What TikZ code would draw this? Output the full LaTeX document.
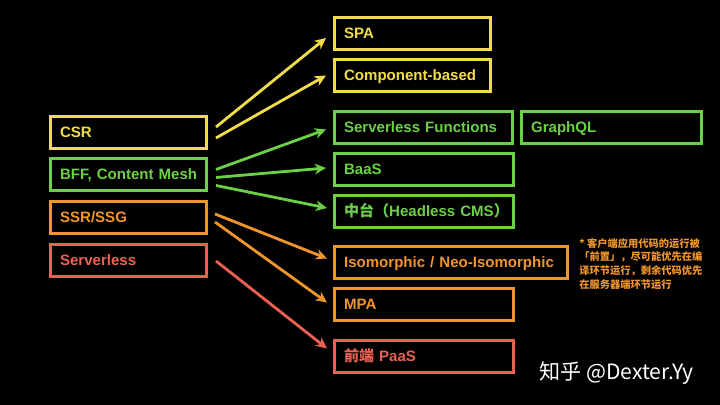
\documentclass[tikz,border=0pt]{standalone}
\usepackage{fontspec}
\setmainfont{Liberation Sans}
\newfontfamily\cjk{Noto Sans CJK SC}
\usetikzlibrary{arrows.meta,calc}
\definecolor{yel}{HTML}{F2DC4A}
\definecolor{grn}{HTML}{6CD046}
\definecolor{org}{HTML}{F0952C}
\definecolor{rd}{HTML}{EC6052}

\begin{document}
\begin{tikzpicture}[
        x=0.025cm, y=-0.025cm,
        box/.style 2 args={draw=#1, text=#1, line width=2.1pt, anchor=north west,
                minimum height=0.8cm, inner xsep=0.24cm, text width=#2, align=left,
                text height=0.72em, text depth=0pt,
                font=\fontsize{10.7}{12}\selectfont\bfseries},
        link/.style={draw=#1, line width=2pt, -{Stealth[length=8pt,width=7.5pt]}}
    ]
    \fill[black] (0,0) rectangle (720,405);

    \node[box={yel}{3.42cm}] (csr) at (49,115) {CSR};
    \node[box={grn}{3.42cm}] (bff) at (49,157) {\mbox{BFF, Content Mesh}};
    \node[box={org}{3.42cm}] (ssr) at (49,200) {SSR/SSG};
    \node[box={rd}{3.42cm}] (srv) at (49,243) {Serverless};

    \node[box={yel}{3.42cm}] (spa) at (333,16) {SPA};
    \node[box={yel}{3.42cm}] (comp) at (333,58) {Component-based};
    \node[box={grn}{3.97cm}] (sf) at (333,110) {\mbox{Serverless Functions}};
    \node[box={grn}{4.02cm}] (gql) at (520,110) {GraphQL};
    \node[box={grn}{4.0cm}] (baas) at (333,152) {BaaS};
    \node[box={grn}{4.0cm}] (mid) at (333,194) {\mbox{{\cjk 中台（}Headless CMS{\cjk ）}}};
    \node[box={org}{5.35cm}] (iso) at (333,245) {\mbox{Isomorphic / Neo-Isomorphic}};
    \node[box={org}{4.0cm}] (mpa) at (333,287) {MPA};
    \node[box={rd}{4.0cm}] (paas) at (333,339) {\mbox{{\cjk 前端} PaaS}};

    \draw[link=yel] ($(csr.east)+(8,-5.5)$) -- ($(spa.west)+(-7,4.5)$);
    \draw[link=yel] ($(csr.east)+(8,5.5)$) -- ($(comp.west)+(-7,0)$);
    \draw[link=grn] ($(bff.east)+(8,-5)$) -- ($(sf.west)+(-7,2)$);
    \draw[link=grn] ($(bff.east)+(8,3)$) -- ($(baas.west)+(-7,-1.5)$);
    \draw[link=grn] ($(bff.east)+(8,11)$) -- ($(mid.west)+(-6,-3.5)$);
    \draw[link=org] ($(ssr.east)+(7,-3.5)$) -- ($(iso.west)+(-6,-4)$);
    \draw[link=org] ($(ssr.east)+(7,4.5)$) -- ($(mpa.west)+(-6,-2)$);
    \draw[link=rd] ($(srv.east)+(8,0.5)$) -- ($(paas.west)+(-6,-8)$);

    \node[anchor=north west, inner sep=0, text=org, align=left,
        font=\cjk\fontsize{7.3}{9.8}\selectfont\bfseries] (note) at (579,238)
        {* 客户端应用代码的运行被\\「前置」，尽可能优先在编\\译环节运行，剩余代码优先\\在服务器端环节运行};
    \node[anchor=west, inner sep=0, text=white,
        font=\cjk\fontsize{15}{17}\selectfont] (mark) at (539,373) {知乎 @Dexter.Yy};
\end{tikzpicture}
\end{document}
